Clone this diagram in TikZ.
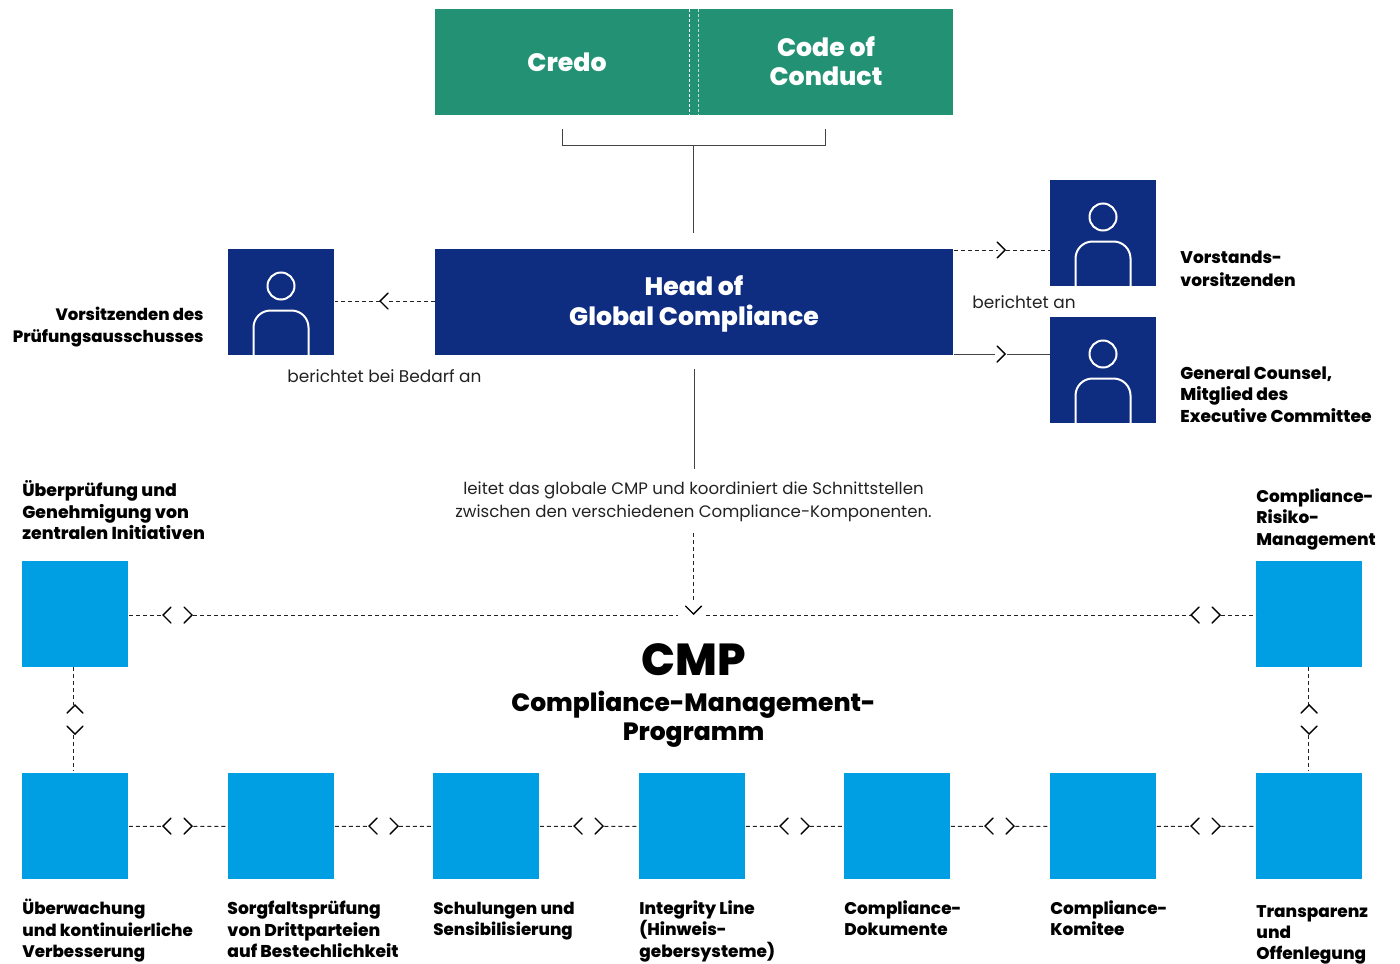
\documentclass[tikz,border=0pt]{standalone}
\usepackage{fontspec}
\setmainfont{Poppins}[BoldFont={Poppins ExtraBold}]
\usetikzlibrary{calc}
\definecolor{navy}{HTML}{0E2C80}
\definecolor{sky}{HTML}{009FE3}
\definecolor{teal2}{HTML}{239274}
\definecolor{ink}{HTML}{222222}
\newcommand{\lblfont}{\fontsize{8.45}{10.85}\selectfont\bfseries}
\newcommand{\txtfont}{\fontsize{8.47}{11.5}\selectfont}
\newcommand{\bigfont}{\fontsize{12.6}{14.6}\selectfont\bfseries}
\tikzset{
  x=0.5pt,y=-0.5pt,
  block/.style={draw=none,minimum width=53pt,minimum height=53pt,inner sep=0,anchor=north west},
  skybox/.style={block,fill=sky},
  navybox/.style={block,fill=navy},
  wide/.style={inner sep=0,anchor=north west,minimum width=259pt,minimum height=53pt},
  big/.style={inner sep=0,align=center,font=\bigfont},
  lbl/.style={inner sep=0,anchor=north west,align=left,font=\lblfont,text=black},
  lblr/.style={inner sep=0,anchor=north east,align=right,font=\lblfont,text=black},
  txt/.style={inner sep=0,anchor=north west,align=left,font=\txtfont,text=ink},
  txtc/.style={inner sep=0,anchor=north,align=center,font=\fontsize{8.3}{11.5}\selectfont,text=ink},
  dl/.style={draw=ink,line width=0.5pt,dash pattern=on 2pt off 1.5pt},
  sl/.style={draw=ink!85,line width=0.5pt},
  chev/.style={draw=black,line width=0.7pt,line cap=round,line join=miter},
  person/.style={draw=white,line width=1pt},
}
% chevrons: tip at (#1,#2)
\newcommand{\chR}[2]{\draw[chev] (#1-8,#2-8) -- (#1,#2) -- (#1-8,#2+8);}
\newcommand{\chL}[2]{\draw[chev] (#1+8,#2-8) -- (#1,#2) -- (#1+8,#2+8);}
\newcommand{\chD}[2]{\draw[chev] (#1-8,#2-8) -- (#1,#2) -- (#1+8,#2-8);}
\newcommand{\chU}[2]{\draw[chev] (#1-8,#2+8) -- (#1,#2) -- (#1+8,#2+8);}
% horizontal double connector between two boxes
\newcommand{\hconn}[3]{%
  \coordinate (#1#2L) at ($(#1.east)!0.5!(#2.west)+(-16,0)$);
  \coordinate (#1#2R) at ($(#1.east)!0.5!(#2.west)+(15,0)$);
  \draw[dl] (#1.east) -- (#1#2L);
  \draw[dl] (#1#2R) -- (#2.west);
  \chL{#3-15}{826}\chR{#3+14}{826}}
\newcommand{\personicon}[2]{%
  \draw[person] (#1+53,#2+37) circle[radius=13.5];
  \draw[person,rounded corners=8.5pt] (#1+25.5,#2+106) -- (#1+25.5,#2+61.5) -- (#1+80.5,#2+61.5) -- (#1+80.5,#2+106);}
\begin{document}
\begin{tikzpicture}
\useasboundingbox (0,0) rectangle (1400,963);
% top
\node[wide,fill=teal2] (top) at (435,9) {};
\node[big,text=white] (credo) at (567,62.5) {Credo};
\node[big,text=white] (code) at (826,61) {Code of\\Conduct};
\coordinate (d1a) at (689.5,9); \coordinate (d1b) at (689.5,115);
\coordinate (d2a) at (698.5,9); \coordinate (d2b) at (698.5,115);
\draw[white,line width=0.5pt,dash pattern=on 1.5pt off 1pt] (d1a) -- (d1b);
\draw[white!70!teal2,line width=0.5pt,dash pattern=on 1.5pt off 1pt] (d2a) -- (d2b);
% bracket
\coordinate (brL) at (562,129); \coordinate (brR) at (825.5,129);
\coordinate (brM) at (693.5,145); \coordinate (brE) at (693.5,233);
\draw[sl] (brL) |- (brR |- brM) -- (brR);
\draw[sl] (brM) -- (brE);
% head
\node[wide,fill=navy] (head) at (435,249) {};
\node[big,text=white] (headt) at (694,304) {Head of\\Global Compliance};
% persons
\node[navybox] (pl) at (228,249) {};
\node[navybox] (pt) at (1050,180) {};
\node[navybox] (pb) at (1050,317) {};
\personicon{228}{249}
\personicon{1050}{180}
\personicon{1050}{317}
% head connectors
\coordinate (hl1) at (388,301); \coordinate (hl2) at (380,301);
\draw[dl] (head.west |- hl1) -- (hl1);
\draw[dl] (hl2) -- (pl.east |- hl2);
\chL{380}{301}
\coordinate (ht1) at (998,250); \coordinate (ht2) at (1006,250);
\draw[dl] (head.east |- ht1) -- (ht1);
\draw[dl] (ht2) -- (pt.west |- ht2);
\chR{1005}{250}
\coordinate (hb1) at (995,354); \coordinate (hb2) at (1007,354);
\draw[sl] (head.east |- hb1) -- (hb1);
\draw[sl] (hb2) -- (pb.west |- hb2);
\chR{1005}{354}
\coordinate (hs) at (694.5,369); \coordinate (he) at (694.5,469);
\draw[sl] (hs) -- (he);
% top labels
\node[lbl] (lv) at (1180,251) {Vorstands-\\[0.6pt]vorsitzenden};
\node[lbl,font=\fontsize{8.55}{10.95}\selectfont\bfseries] (lg) at (1180,366) {General Counsel,\\Mitglied des\\Executive Committee};
\node[lblr,font=\fontsize{8.25}{10.95}\selectfont\bfseries] (lp) at (204,307) {Vorsitzenden des\\Prüfungsausschusses};
\node[txt] (tb) at (972,295) {berichtet an};
\node[txt] (tbb) at (287,369) {berichtet bei Bedarf an};
\node[txtc] (tc) at (693.5,481) {leitet das globale CMP und koordiniert die Schnittstellen\\zwischen den verschiedenen Compliance-Komponenten.};
% cmp title
\node[inner sep=0,font=\fontsize{22.4}{25}\selectfont\bfseries] (cmp) at (693.5,660) {CMP};
\node[big,font=\fontsize{12.5}{14.6}\selectfont\bfseries] (cmps) at (693.5,719.5) {Compliance-Management-\\Programm};
% sky boxes
\node[skybox] (a) at (22,561) {};
\node[skybox] (b) at (1256,561) {};
\node[skybox] (c1) at (22,773) {};
\node[skybox] (c2) at (228,773) {};
\node[skybox] (c3) at (433,773) {};
\node[skybox] (c4) at (639,773) {};
\node[skybox] (c5) at (844,773) {};
\node[skybox] (c6) at (1050,773) {};
\node[skybox] (c7) at (1256,773) {};
% row connectors
\hconn{c1}{c2}{178}
\hconn{c2}{c3}{384}
\hconn{c3}{c4}{589}
\hconn{c4}{c5}{795}
\hconn{c5}{c6}{1000}
\hconn{c6}{c7}{1206}
% top long connector
\coordinate (tl1) at (163,615); \coordinate (tl2) at (193,615);
\coordinate (tl3) at (678,615); \coordinate (tl4) at (706,615);
\coordinate (tl5) at (1191,615); \coordinate (tl6) at (1221,615);
\draw[dl] (a.east |- tl1) -- (tl1);
\draw[dl] (tl2) -- (tl3);
\draw[dl] (tl4) -- (tl5);
\draw[dl] (tl6) -- (b.west |- tl6);
\chL{163}{615}\chR{192}{615}\chL{1191}{615}\chR{1220}{615}
\coordinate (v1) at (693.5,533); \coordinate (v2) at (693.5,602);
\draw[dl] (v1) -- (v2);
\chD{693.5}{614}
% vertical connectors
\coordinate (la1) at (73,667); \coordinate (la2) at (73,705);
\coordinate (la3) at (73,735); \coordinate (la4) at (73,771);
\draw[dl] (la1) -- (la2);
\draw[dl] (la3) -- (la4);
\chU{75}{705}\chD{75}{734}
\coordinate (ra1) at (1308.5,667); \coordinate (ra2) at (1308.5,705);
\coordinate (ra3) at (1308.5,735); \coordinate (ra4) at (1308.5,771);
\draw[dl] (ra1) -- (ra2);
\draw[dl] (ra3) -- (ra4);
\chU{1309}{705}\chD{1309}{734}
% box labels
\node[lbl,font=\fontsize{8.65}{10.85}\selectfont\bfseries] (l1) at (22,480) {Überprüfung und\\Genehmigung von\\zentralen Initiativen};
\node[lbl] (l2) at (1256,488) {Compliance-\\Risiko-\\Management};
\node[lbl,font=\fontsize{8.35}{10.85}\selectfont\bfseries] (l3) at (22,898.5) {Überwachung\\und kontinuierliche\\Verbesserung};
\node[lbl,font=\fontsize{8.55}{10.7}\selectfont\bfseries] (l4) at (227,901) {Sorgfaltsprüfung\\von Drittparteien\\auf Bestechlichkeit};
\node[lbl,font=\fontsize{8.3}{10.85}\selectfont\bfseries] (l5) at (433,901.5) {Schulungen und\\Sensibilisierung};
\node[lbl] (l6) at (639,900) {Integrity Line\\(Hinweis-\\gebersysteme)};
\node[lbl] (l7) at (844,900) {Compliance-\\Dokumente};
\node[lbl] (l8) at (1050,900) {Compliance-\\Komitee};
\node[lbl,font=\fontsize{8.45}{10.4}\selectfont\bfseries] (l9) at (1256,905.5) {Transparenz\\und\\Offenlegung};
\end{tikzpicture}
\end{document}
